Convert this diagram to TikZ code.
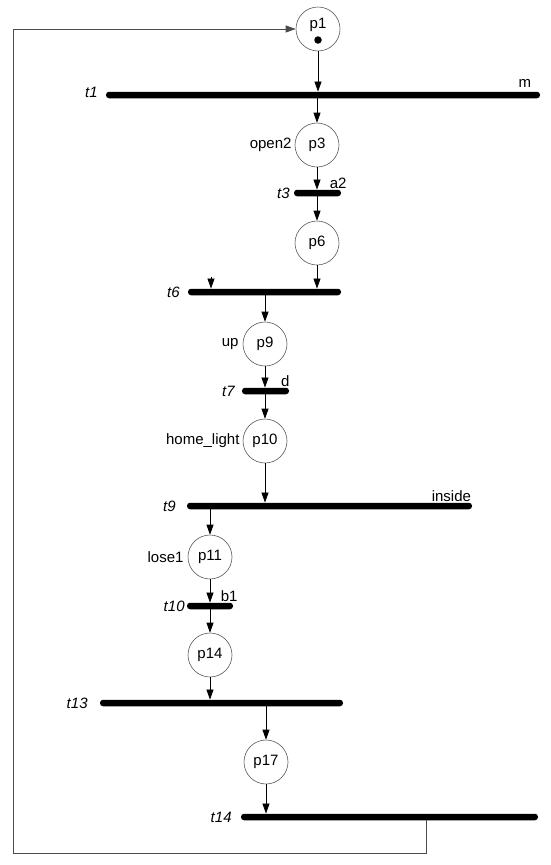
\documentclass[tikz,border=0pt]{standalone}
\usepackage{fontspec}
\setmainfont{Liberation Sans}
\usetikzlibrary{arrows.meta,positioning}

\tikzset{
  place/.style={circle,draw=black!65,line width=0.6pt,minimum size=44pt,inner sep=0pt,font=\fontsize{15}{17}\selectfont},
  trans/.style={rectangle,fill=black,rounded corners=3pt,minimum height=6.5pt,inner sep=0pt},
  token/.style={circle,fill=black,minimum size=7.5pt,inner sep=0pt},
  arc/.style={-{Triangle[length=10pt,width=7pt]},line width=0.7pt},
  backarc/.style={-{Triangle[length=10pt,width=7pt]},line width=0.8pt,draw=black!70},
  tname/.style={font=\fontsize{15}{17}\selectfont\itshape,inner sep=1pt},
  tguard/.style={font=\fontsize{15}{17}\selectfont,inner sep=1pt},
  pname/.style={font=\fontsize{15}{17}\selectfont,inner sep=1pt}
}

\begin{document}
\begin{tikzpicture}[x=1pt,y=1pt]
  \useasboundingbox (0,0) rectangle (550,-865);

  % places
  \node[place] (p1) at (318,-29) {};
  \node[pname] (p1txt) at ([yshift=4pt]p1.center) {p1};
  \node[token] (tok) at ([yshift=-11pt]p1.center) {};
  \node[place] (p3) at (317,-145) {p3};
  \node[place] (p6) at (317,-243) {p6};
  \node[place] (p9) at (265,-344) {p9};
  \node[place] (p10) at (265,-441) {p10};
  \node[place] (p11) at (210,-557) {p11};
  \node[place] (p14) at (210,-655) {p14};
  \node[place] (p17) at (266,-762) {p17};

  % transitions
  \node[trans,minimum width=434pt] (t1) at (323,-95) {};
  \node[trans,minimum width=47pt] (t3) at (317.5,-193) {};
  \node[trans,minimum width=153pt] (t6) at (264.5,-292) {};
  \node[trans,minimum width=47pt] (t7) at (265.5,-391) {};
  \node[trans,minimum width=285pt] (t9) at (329.5,-506) {};
  \node[trans,minimum width=46pt] (t10) at (210,-606) {};
  \node[trans,minimum width=243pt] (t13) at (221.5,-703) {};
  \node[trans,minimum width=297pt] (t14) at (389.5,-817) {};

  % transition names
  \node[tname,left=7pt of t1,yshift=3pt] (t1txt) {t1};
  \node[tname,left=3pt of t3] (t3txt) {t3};
  \node[tname,left=7pt of t6] (t6txt) {t6};
  \node[tname,left=6pt of t7] (t7txt) {t7};
  \node[tname,left=10pt of t9] (t9txt) {t9};
  \node[tname,left=1pt of t10] (t10txt) {t10};
  \node[tname,left=11pt of t13] (t13txt) {t13};
  \node[tname,left=8pt of t14] (t14txt) {t14};

  % guards
  \node[tguard,above left=3pt and 8pt of t1.north east] (g1) {m};
  \node[tguard,above=0pt of t3.north east,xshift=-3pt] (g3) {a2};
  \node[tguard,above=0pt of t7.north east,xshift=-4pt] (g7) {d};
  \node[tguard,above left=0pt and 0pt of t9.north east] (g9) {inside};
  \node[tguard,above=0pt of t10.north east,xshift=-4pt] (g10) {b1};

  % place labels
  \node[pname,left=2pt of p3] (l3) {open2};
  \node[pname,left=3pt of p9] (l9) {up};
  \node[pname,left=2pt of p10] (l10) {home\_light};
  \node[pname,left=3pt of p11] (l11) {lose1};

  % arcs
  \draw[arc] (p1) -- (p1 |- t1.north);
  \draw[arc] (p3 |- t1.south) -- (p3);
  \draw[arc] (p3) -- (p3 |- t3.north);
  \draw[arc] (p6 |- t3.south) -- (p6);
  \draw[arc] (p6) -- (p6 |- t6.north);
  \coordinate (s6) at (211,-277);
  \draw[arc] (s6) -- (s6 |- t6.north);
  \draw[arc] (p9 |- t6.south) -- (p9);
  \draw[arc] (p9) -- (p9 |- t7.north);
  \draw[arc] (p10 |- t7.south) -- (p10);
  \draw[arc] (p10) -- (p10 |- t9.north);
  \draw[arc] (p11 |- t9.south) -- (p11);
  \draw[arc] (p11) -- (p11 |- t10.north);
  \draw[arc] (p14 |- t10.south) -- (p14);
  \draw[arc] (p14) -- (p14 |- t13.north);
  \draw[arc] (p17 |- t13.south) -- (p17);
  \draw[arc] (p17) -- (p17 |- t14.north);

  % back to p1
  \coordinate (r1) at (426,-853);
  \coordinate (r2) at (13,-853);
  \draw[backarc] (r1 |- t14.south) -- (r1) -- (r2) |- (p1.west);
\end{tikzpicture}
\end{document}
